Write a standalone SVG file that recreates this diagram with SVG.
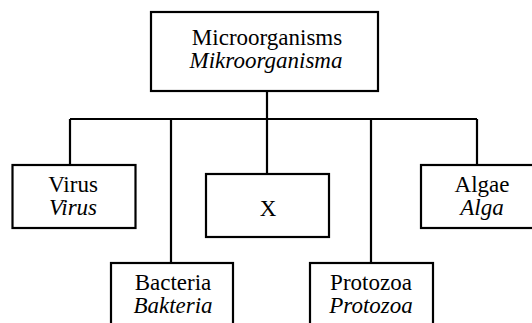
<svg xmlns="http://www.w3.org/2000/svg" width="532" height="323" viewBox="0 0 532 323">
<style>
.box{fill:#fff;stroke:#000;stroke-width:2.2}
.ln{fill:none;stroke:#000;stroke-width:2.2}
.it{font-style:italic}
</style>
<rect width="532" height="323" fill="#fff"/>
<g id="connectors">
<path class="ln" d="M267 91V119M70 119H477M70 119V165M171 119V263M267 119V174M371 119V263M477 119V165"/>
</g>
<g font-family="Liberation Serif, DejaVu Serif, Times New Roman, serif" font-size="23" text-anchor="middle" fill="#000">
<g id="root">
<rect class="box" x="151" y="12" width="227" height="79"/>
<text x="267" y="45">Microorganisms</text>
<text class="it" x="266" y="68">Mikroorganisma</text>
</g>
<g id="virus">
<rect class="box" x="12.5" y="165" width="123" height="63"/>
<text x="73" y="192">Virus</text>
<text class="it" x="73" y="215">Virus</text>
</g>
<g id="x">
<rect class="box" x="206" y="174" width="123" height="63"/>
<text x="268" y="216">X</text>
</g>
<g id="algae">
<rect class="box" x="421" y="165" width="123" height="63"/>
<text x="482" y="192">Algae</text>
<text class="it" x="482" y="215">Alga</text>
</g>
<g id="bacteria">
<rect class="box" x="111" y="263" width="122" height="70"/>
<text x="173" y="290">Bacteria</text>
<text class="it" x="173" y="313">Bakteria</text>
</g>
<g id="protozoa">
<rect class="box" x="310" y="263" width="123" height="70"/>
<text x="371" y="290">Protozoa</text>
<text class="it" x="371" y="313">Protozoa</text>
</g>
</g>
</svg>
